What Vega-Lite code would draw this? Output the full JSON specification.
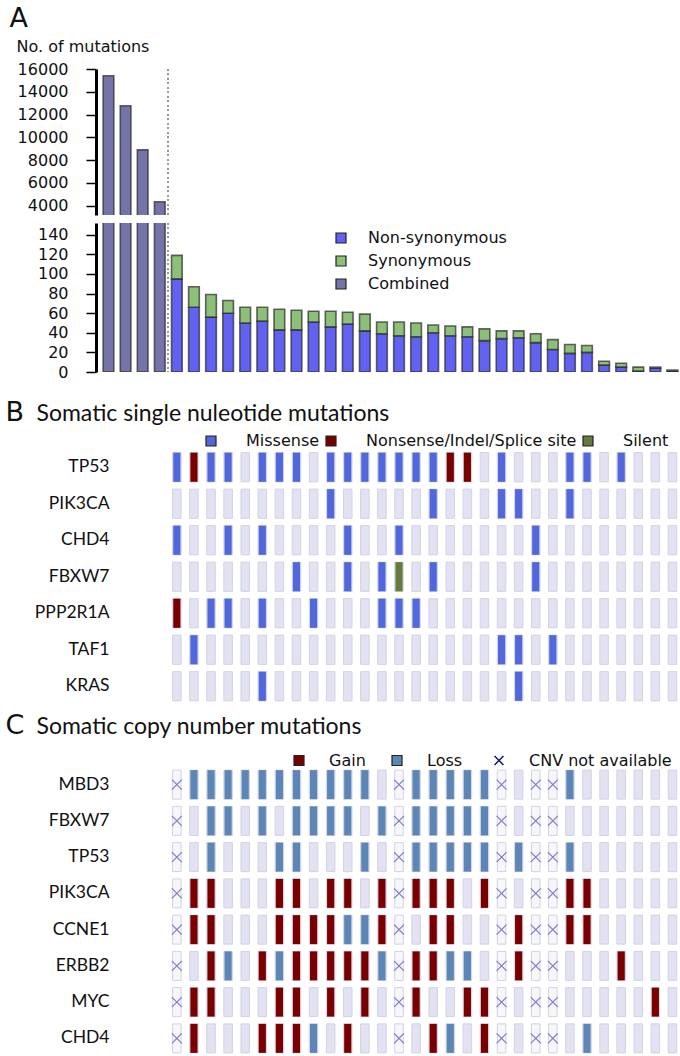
{
  "$schema": "https://vega.github.io/schema/vega-lite/v6.json",
  "padding": {"left": 5, "top": 4, "right": 0, "bottom": 0},
  "config": {
    "view": {"stroke": null},
    "font": "DejaVu Sans",
    "axis": {"grid": false},
    "legend": {"labelFont": "DejaVu Sans", "labelFontSize": 16, "labelColor": "#111", "labelLimit": 400}
  },
  "datasets": {
    "counts": [
      {"sample": 1, "type": "Combined", "count": 15410},
      {"sample": 2, "type": "Combined", "count": 12770},
      {"sample": 3, "type": "Combined", "count": 8900},
      {"sample": 4, "type": "Combined", "count": 4350},
      {"sample": 5, "type": "Non-synonymous", "count": 95}, {"sample": 5, "type": "Synonymous", "count": 24},
      {"sample": 6, "type": "Non-synonymous", "count": 66}, {"sample": 6, "type": "Synonymous", "count": 21},
      {"sample": 7, "type": "Non-synonymous", "count": 56}, {"sample": 7, "type": "Synonymous", "count": 23},
      {"sample": 8, "type": "Non-synonymous", "count": 60}, {"sample": 8, "type": "Synonymous", "count": 13},
      {"sample": 9, "type": "Non-synonymous", "count": 50}, {"sample": 9, "type": "Synonymous", "count": 16},
      {"sample": 10, "type": "Non-synonymous", "count": 52}, {"sample": 10, "type": "Synonymous", "count": 14},
      {"sample": 11, "type": "Non-synonymous", "count": 43}, {"sample": 11, "type": "Synonymous", "count": 21},
      {"sample": 12, "type": "Non-synonymous", "count": 43}, {"sample": 12, "type": "Synonymous", "count": 20},
      {"sample": 13, "type": "Non-synonymous", "count": 51}, {"sample": 13, "type": "Synonymous", "count": 11},
      {"sample": 14, "type": "Non-synonymous", "count": 46}, {"sample": 14, "type": "Synonymous", "count": 16},
      {"sample": 15, "type": "Non-synonymous", "count": 49}, {"sample": 15, "type": "Synonymous", "count": 12},
      {"sample": 16, "type": "Non-synonymous", "count": 42}, {"sample": 16, "type": "Synonymous", "count": 17},
      {"sample": 17, "type": "Non-synonymous", "count": 39}, {"sample": 17, "type": "Synonymous", "count": 12},
      {"sample": 18, "type": "Non-synonymous", "count": 37}, {"sample": 18, "type": "Synonymous", "count": 14},
      {"sample": 19, "type": "Non-synonymous", "count": 36}, {"sample": 19, "type": "Synonymous", "count": 14},
      {"sample": 20, "type": "Non-synonymous", "count": 40}, {"sample": 20, "type": "Synonymous", "count": 8},
      {"sample": 21, "type": "Non-synonymous", "count": 37}, {"sample": 21, "type": "Synonymous", "count": 10},
      {"sample": 22, "type": "Non-synonymous", "count": 36}, {"sample": 22, "type": "Synonymous", "count": 10},
      {"sample": 23, "type": "Non-synonymous", "count": 32}, {"sample": 23, "type": "Synonymous", "count": 12},
      {"sample": 24, "type": "Non-synonymous", "count": 34}, {"sample": 24, "type": "Synonymous", "count": 8},
      {"sample": 25, "type": "Non-synonymous", "count": 35}, {"sample": 25, "type": "Synonymous", "count": 7},
      {"sample": 26, "type": "Non-synonymous", "count": 30}, {"sample": 26, "type": "Synonymous", "count": 9},
      {"sample": 27, "type": "Non-synonymous", "count": 23}, {"sample": 27, "type": "Synonymous", "count": 10},
      {"sample": 28, "type": "Non-synonymous", "count": 19}, {"sample": 28, "type": "Synonymous", "count": 9},
      {"sample": 29, "type": "Non-synonymous", "count": 20}, {"sample": 29, "type": "Synonymous", "count": 7},
      {"sample": 30, "type": "Non-synonymous", "count": 7}, {"sample": 30, "type": "Synonymous", "count": 4},
      {"sample": 31, "type": "Non-synonymous", "count": 5}, {"sample": 31, "type": "Synonymous", "count": 4},
      {"sample": 32, "type": "Non-synonymous", "count": 1}, {"sample": 32, "type": "Synonymous", "count": 4},
      {"sample": 33, "type": "Non-synonymous", "count": 4}, {"sample": 33, "type": "Synonymous", "count": 1},
      {"sample": 34, "type": "Non-synonymous", "count": 1}, {"sample": 34, "type": "Synonymous", "count": 1}
    ],
    "snv": [
      {"gene":"TP53","sample":5,"type":"Missense"},{"gene":"TP53","sample":6,"type":"Nonsense/Indel/Splice site"},{"gene":"TP53","sample":7,"type":"Missense"},{"gene":"TP53","sample":8,"type":"Missense"},{"gene":"TP53","sample":9,"type":"none"},{"gene":"TP53","sample":10,"type":"Missense"},{"gene":"TP53","sample":11,"type":"Missense"},{"gene":"TP53","sample":12,"type":"Missense"},{"gene":"TP53","sample":13,"type":"none"},{"gene":"TP53","sample":14,"type":"Missense"},{"gene":"TP53","sample":15,"type":"Missense"},{"gene":"TP53","sample":16,"type":"Missense"},{"gene":"TP53","sample":17,"type":"Missense"},{"gene":"TP53","sample":18,"type":"Missense"},{"gene":"TP53","sample":19,"type":"Missense"},{"gene":"TP53","sample":20,"type":"Missense"},{"gene":"TP53","sample":21,"type":"Nonsense/Indel/Splice site"},{"gene":"TP53","sample":22,"type":"Nonsense/Indel/Splice site"},{"gene":"TP53","sample":23,"type":"none"},{"gene":"TP53","sample":24,"type":"Missense"},{"gene":"TP53","sample":25,"type":"none"},{"gene":"TP53","sample":26,"type":"none"},{"gene":"TP53","sample":27,"type":"none"},{"gene":"TP53","sample":28,"type":"Missense"},{"gene":"TP53","sample":29,"type":"Missense"},{"gene":"TP53","sample":30,"type":"none"},{"gene":"TP53","sample":31,"type":"Missense"},{"gene":"TP53","sample":32,"type":"none"},{"gene":"TP53","sample":33,"type":"none"},{"gene":"TP53","sample":34,"type":"none"},
      {"gene":"PIK3CA","sample":5,"type":"none"},{"gene":"PIK3CA","sample":6,"type":"none"},{"gene":"PIK3CA","sample":7,"type":"none"},{"gene":"PIK3CA","sample":8,"type":"none"},{"gene":"PIK3CA","sample":9,"type":"none"},{"gene":"PIK3CA","sample":10,"type":"none"},{"gene":"PIK3CA","sample":11,"type":"none"},{"gene":"PIK3CA","sample":12,"type":"none"},{"gene":"PIK3CA","sample":13,"type":"none"},{"gene":"PIK3CA","sample":14,"type":"Missense"},{"gene":"PIK3CA","sample":15,"type":"none"},{"gene":"PIK3CA","sample":16,"type":"none"},{"gene":"PIK3CA","sample":17,"type":"none"},{"gene":"PIK3CA","sample":18,"type":"none"},{"gene":"PIK3CA","sample":19,"type":"none"},{"gene":"PIK3CA","sample":20,"type":"Missense"},{"gene":"PIK3CA","sample":21,"type":"none"},{"gene":"PIK3CA","sample":22,"type":"none"},{"gene":"PIK3CA","sample":23,"type":"none"},{"gene":"PIK3CA","sample":24,"type":"Missense"},{"gene":"PIK3CA","sample":25,"type":"Missense"},{"gene":"PIK3CA","sample":26,"type":"none"},{"gene":"PIK3CA","sample":27,"type":"none"},{"gene":"PIK3CA","sample":28,"type":"Missense"},{"gene":"PIK3CA","sample":29,"type":"none"},{"gene":"PIK3CA","sample":30,"type":"none"},{"gene":"PIK3CA","sample":31,"type":"none"},{"gene":"PIK3CA","sample":32,"type":"none"},{"gene":"PIK3CA","sample":33,"type":"none"},{"gene":"PIK3CA","sample":34,"type":"none"},
      {"gene":"CHD4","sample":5,"type":"Missense"},{"gene":"CHD4","sample":6,"type":"none"},{"gene":"CHD4","sample":7,"type":"none"},{"gene":"CHD4","sample":8,"type":"Missense"},{"gene":"CHD4","sample":9,"type":"none"},{"gene":"CHD4","sample":10,"type":"Missense"},{"gene":"CHD4","sample":11,"type":"none"},{"gene":"CHD4","sample":12,"type":"none"},{"gene":"CHD4","sample":13,"type":"none"},{"gene":"CHD4","sample":14,"type":"none"},{"gene":"CHD4","sample":15,"type":"Missense"},{"gene":"CHD4","sample":16,"type":"none"},{"gene":"CHD4","sample":17,"type":"none"},{"gene":"CHD4","sample":18,"type":"Missense"},{"gene":"CHD4","sample":19,"type":"none"},{"gene":"CHD4","sample":20,"type":"none"},{"gene":"CHD4","sample":21,"type":"none"},{"gene":"CHD4","sample":22,"type":"none"},{"gene":"CHD4","sample":23,"type":"none"},{"gene":"CHD4","sample":24,"type":"none"},{"gene":"CHD4","sample":25,"type":"none"},{"gene":"CHD4","sample":26,"type":"Missense"},{"gene":"CHD4","sample":27,"type":"none"},{"gene":"CHD4","sample":28,"type":"none"},{"gene":"CHD4","sample":29,"type":"none"},{"gene":"CHD4","sample":30,"type":"none"},{"gene":"CHD4","sample":31,"type":"none"},{"gene":"CHD4","sample":32,"type":"none"},{"gene":"CHD4","sample":33,"type":"none"},{"gene":"CHD4","sample":34,"type":"none"},
      {"gene":"FBXW7","sample":5,"type":"none"},{"gene":"FBXW7","sample":6,"type":"none"},{"gene":"FBXW7","sample":7,"type":"none"},{"gene":"FBXW7","sample":8,"type":"none"},{"gene":"FBXW7","sample":9,"type":"none"},{"gene":"FBXW7","sample":10,"type":"none"},{"gene":"FBXW7","sample":11,"type":"none"},{"gene":"FBXW7","sample":12,"type":"Missense"},{"gene":"FBXW7","sample":13,"type":"none"},{"gene":"FBXW7","sample":14,"type":"none"},{"gene":"FBXW7","sample":15,"type":"Missense"},{"gene":"FBXW7","sample":16,"type":"none"},{"gene":"FBXW7","sample":17,"type":"Missense"},{"gene":"FBXW7","sample":18,"type":"Silent"},{"gene":"FBXW7","sample":19,"type":"none"},{"gene":"FBXW7","sample":20,"type":"Missense"},{"gene":"FBXW7","sample":21,"type":"none"},{"gene":"FBXW7","sample":22,"type":"none"},{"gene":"FBXW7","sample":23,"type":"none"},{"gene":"FBXW7","sample":24,"type":"none"},{"gene":"FBXW7","sample":25,"type":"none"},{"gene":"FBXW7","sample":26,"type":"Missense"},{"gene":"FBXW7","sample":27,"type":"none"},{"gene":"FBXW7","sample":28,"type":"none"},{"gene":"FBXW7","sample":29,"type":"none"},{"gene":"FBXW7","sample":30,"type":"none"},{"gene":"FBXW7","sample":31,"type":"none"},{"gene":"FBXW7","sample":32,"type":"none"},{"gene":"FBXW7","sample":33,"type":"none"},{"gene":"FBXW7","sample":34,"type":"none"},
      {"gene":"PPP2R1A","sample":5,"type":"Nonsense/Indel/Splice site"},{"gene":"PPP2R1A","sample":6,"type":"none"},{"gene":"PPP2R1A","sample":7,"type":"Missense"},{"gene":"PPP2R1A","sample":8,"type":"Missense"},{"gene":"PPP2R1A","sample":9,"type":"none"},{"gene":"PPP2R1A","sample":10,"type":"Missense"},{"gene":"PPP2R1A","sample":11,"type":"none"},{"gene":"PPP2R1A","sample":12,"type":"none"},{"gene":"PPP2R1A","sample":13,"type":"Missense"},{"gene":"PPP2R1A","sample":14,"type":"none"},{"gene":"PPP2R1A","sample":15,"type":"none"},{"gene":"PPP2R1A","sample":16,"type":"none"},{"gene":"PPP2R1A","sample":17,"type":"Missense"},{"gene":"PPP2R1A","sample":18,"type":"Missense"},{"gene":"PPP2R1A","sample":19,"type":"Missense"},{"gene":"PPP2R1A","sample":20,"type":"none"},{"gene":"PPP2R1A","sample":21,"type":"none"},{"gene":"PPP2R1A","sample":22,"type":"none"},{"gene":"PPP2R1A","sample":23,"type":"none"},{"gene":"PPP2R1A","sample":24,"type":"none"},{"gene":"PPP2R1A","sample":25,"type":"none"},{"gene":"PPP2R1A","sample":26,"type":"none"},{"gene":"PPP2R1A","sample":27,"type":"none"},{"gene":"PPP2R1A","sample":28,"type":"none"},{"gene":"PPP2R1A","sample":29,"type":"none"},{"gene":"PPP2R1A","sample":30,"type":"none"},{"gene":"PPP2R1A","sample":31,"type":"none"},{"gene":"PPP2R1A","sample":32,"type":"none"},{"gene":"PPP2R1A","sample":33,"type":"none"},{"gene":"PPP2R1A","sample":34,"type":"none"},
      {"gene":"TAF1","sample":5,"type":"none"},{"gene":"TAF1","sample":6,"type":"Missense"},{"gene":"TAF1","sample":7,"type":"none"},{"gene":"TAF1","sample":8,"type":"none"},{"gene":"TAF1","sample":9,"type":"none"},{"gene":"TAF1","sample":10,"type":"none"},{"gene":"TAF1","sample":11,"type":"none"},{"gene":"TAF1","sample":12,"type":"none"},{"gene":"TAF1","sample":13,"type":"none"},{"gene":"TAF1","sample":14,"type":"none"},{"gene":"TAF1","sample":15,"type":"none"},{"gene":"TAF1","sample":16,"type":"none"},{"gene":"TAF1","sample":17,"type":"none"},{"gene":"TAF1","sample":18,"type":"none"},{"gene":"TAF1","sample":19,"type":"none"},{"gene":"TAF1","sample":20,"type":"none"},{"gene":"TAF1","sample":21,"type":"none"},{"gene":"TAF1","sample":22,"type":"none"},{"gene":"TAF1","sample":23,"type":"none"},{"gene":"TAF1","sample":24,"type":"Missense"},{"gene":"TAF1","sample":25,"type":"Missense"},{"gene":"TAF1","sample":26,"type":"none"},{"gene":"TAF1","sample":27,"type":"Missense"},{"gene":"TAF1","sample":28,"type":"none"},{"gene":"TAF1","sample":29,"type":"none"},{"gene":"TAF1","sample":30,"type":"none"},{"gene":"TAF1","sample":31,"type":"none"},{"gene":"TAF1","sample":32,"type":"none"},{"gene":"TAF1","sample":33,"type":"none"},{"gene":"TAF1","sample":34,"type":"none"},
      {"gene":"KRAS","sample":5,"type":"none"},{"gene":"KRAS","sample":6,"type":"none"},{"gene":"KRAS","sample":7,"type":"none"},{"gene":"KRAS","sample":8,"type":"none"},{"gene":"KRAS","sample":9,"type":"none"},{"gene":"KRAS","sample":10,"type":"Missense"},{"gene":"KRAS","sample":11,"type":"none"},{"gene":"KRAS","sample":12,"type":"none"},{"gene":"KRAS","sample":13,"type":"none"},{"gene":"KRAS","sample":14,"type":"none"},{"gene":"KRAS","sample":15,"type":"none"},{"gene":"KRAS","sample":16,"type":"none"},{"gene":"KRAS","sample":17,"type":"none"},{"gene":"KRAS","sample":18,"type":"none"},{"gene":"KRAS","sample":19,"type":"none"},{"gene":"KRAS","sample":20,"type":"none"},{"gene":"KRAS","sample":21,"type":"none"},{"gene":"KRAS","sample":22,"type":"none"},{"gene":"KRAS","sample":23,"type":"none"},{"gene":"KRAS","sample":24,"type":"none"},{"gene":"KRAS","sample":25,"type":"Missense"},{"gene":"KRAS","sample":26,"type":"none"},{"gene":"KRAS","sample":27,"type":"none"},{"gene":"KRAS","sample":28,"type":"none"},{"gene":"KRAS","sample":29,"type":"none"},{"gene":"KRAS","sample":30,"type":"none"},{"gene":"KRAS","sample":31,"type":"none"},{"gene":"KRAS","sample":32,"type":"none"},{"gene":"KRAS","sample":33,"type":"none"},{"gene":"KRAS","sample":34,"type":"none"}
    ],
    "cnv": [
      {"gene":"MBD3","sample":5,"status":"CNV not available"},{"gene":"MBD3","sample":6,"status":"Loss"},{"gene":"MBD3","sample":7,"status":"Loss"},{"gene":"MBD3","sample":8,"status":"Loss"},{"gene":"MBD3","sample":9,"status":"Loss"},{"gene":"MBD3","sample":10,"status":"Loss"},{"gene":"MBD3","sample":11,"status":"Loss"},{"gene":"MBD3","sample":12,"status":"Loss"},{"gene":"MBD3","sample":13,"status":"Loss"},{"gene":"MBD3","sample":14,"status":"Loss"},{"gene":"MBD3","sample":15,"status":"Loss"},{"gene":"MBD3","sample":16,"status":"Loss"},{"gene":"MBD3","sample":17,"status":"none"},{"gene":"MBD3","sample":18,"status":"CNV not available"},{"gene":"MBD3","sample":19,"status":"Loss"},{"gene":"MBD3","sample":20,"status":"Loss"},{"gene":"MBD3","sample":21,"status":"Loss"},{"gene":"MBD3","sample":22,"status":"Loss"},{"gene":"MBD3","sample":23,"status":"Loss"},{"gene":"MBD3","sample":24,"status":"CNV not available"},{"gene":"MBD3","sample":25,"status":"none"},{"gene":"MBD3","sample":26,"status":"CNV not available"},{"gene":"MBD3","sample":27,"status":"CNV not available"},{"gene":"MBD3","sample":28,"status":"Loss"},{"gene":"MBD3","sample":29,"status":"none"},{"gene":"MBD3","sample":30,"status":"none"},{"gene":"MBD3","sample":31,"status":"none"},{"gene":"MBD3","sample":32,"status":"none"},{"gene":"MBD3","sample":33,"status":"none"},{"gene":"MBD3","sample":34,"status":"none"},
      {"gene":"FBXW7","sample":5,"status":"CNV not available"},{"gene":"FBXW7","sample":6,"status":"none"},{"gene":"FBXW7","sample":7,"status":"Loss"},{"gene":"FBXW7","sample":8,"status":"Loss"},{"gene":"FBXW7","sample":9,"status":"none"},{"gene":"FBXW7","sample":10,"status":"Loss"},{"gene":"FBXW7","sample":11,"status":"none"},{"gene":"FBXW7","sample":12,"status":"Loss"},{"gene":"FBXW7","sample":13,"status":"Loss"},{"gene":"FBXW7","sample":14,"status":"Loss"},{"gene":"FBXW7","sample":15,"status":"Loss"},{"gene":"FBXW7","sample":16,"status":"none"},{"gene":"FBXW7","sample":17,"status":"Loss"},{"gene":"FBXW7","sample":18,"status":"CNV not available"},{"gene":"FBXW7","sample":19,"status":"Loss"},{"gene":"FBXW7","sample":20,"status":"Loss"},{"gene":"FBXW7","sample":21,"status":"Loss"},{"gene":"FBXW7","sample":22,"status":"Loss"},{"gene":"FBXW7","sample":23,"status":"Loss"},{"gene":"FBXW7","sample":24,"status":"CNV not available"},{"gene":"FBXW7","sample":25,"status":"none"},{"gene":"FBXW7","sample":26,"status":"CNV not available"},{"gene":"FBXW7","sample":27,"status":"CNV not available"},{"gene":"FBXW7","sample":28,"status":"none"},{"gene":"FBXW7","sample":29,"status":"none"},{"gene":"FBXW7","sample":30,"status":"none"},{"gene":"FBXW7","sample":31,"status":"none"},{"gene":"FBXW7","sample":32,"status":"none"},{"gene":"FBXW7","sample":33,"status":"none"},{"gene":"FBXW7","sample":34,"status":"none"},
      {"gene":"TP53","sample":5,"status":"CNV not available"},{"gene":"TP53","sample":6,"status":"none"},{"gene":"TP53","sample":7,"status":"Loss"},{"gene":"TP53","sample":8,"status":"none"},{"gene":"TP53","sample":9,"status":"none"},{"gene":"TP53","sample":10,"status":"none"},{"gene":"TP53","sample":11,"status":"Loss"},{"gene":"TP53","sample":12,"status":"Loss"},{"gene":"TP53","sample":13,"status":"none"},{"gene":"TP53","sample":14,"status":"none"},{"gene":"TP53","sample":15,"status":"none"},{"gene":"TP53","sample":16,"status":"Loss"},{"gene":"TP53","sample":17,"status":"none"},{"gene":"TP53","sample":18,"status":"CNV not available"},{"gene":"TP53","sample":19,"status":"Loss"},{"gene":"TP53","sample":20,"status":"Loss"},{"gene":"TP53","sample":21,"status":"Loss"},{"gene":"TP53","sample":22,"status":"Loss"},{"gene":"TP53","sample":23,"status":"Loss"},{"gene":"TP53","sample":24,"status":"CNV not available"},{"gene":"TP53","sample":25,"status":"Loss"},{"gene":"TP53","sample":26,"status":"CNV not available"},{"gene":"TP53","sample":27,"status":"CNV not available"},{"gene":"TP53","sample":28,"status":"Loss"},{"gene":"TP53","sample":29,"status":"none"},{"gene":"TP53","sample":30,"status":"none"},{"gene":"TP53","sample":31,"status":"none"},{"gene":"TP53","sample":32,"status":"none"},{"gene":"TP53","sample":33,"status":"none"},{"gene":"TP53","sample":34,"status":"none"},
      {"gene":"PIK3CA","sample":5,"status":"CNV not available"},{"gene":"PIK3CA","sample":6,"status":"Gain"},{"gene":"PIK3CA","sample":7,"status":"Gain"},{"gene":"PIK3CA","sample":8,"status":"none"},{"gene":"PIK3CA","sample":9,"status":"none"},{"gene":"PIK3CA","sample":10,"status":"none"},{"gene":"PIK3CA","sample":11,"status":"Gain"},{"gene":"PIK3CA","sample":12,"status":"Gain"},{"gene":"PIK3CA","sample":13,"status":"none"},{"gene":"PIK3CA","sample":14,"status":"Gain"},{"gene":"PIK3CA","sample":15,"status":"Gain"},{"gene":"PIK3CA","sample":16,"status":"none"},{"gene":"PIK3CA","sample":17,"status":"Gain"},{"gene":"PIK3CA","sample":18,"status":"CNV not available"},{"gene":"PIK3CA","sample":19,"status":"Gain"},{"gene":"PIK3CA","sample":20,"status":"Gain"},{"gene":"PIK3CA","sample":21,"status":"Gain"},{"gene":"PIK3CA","sample":22,"status":"none"},{"gene":"PIK3CA","sample":23,"status":"Gain"},{"gene":"PIK3CA","sample":24,"status":"CNV not available"},{"gene":"PIK3CA","sample":25,"status":"none"},{"gene":"PIK3CA","sample":26,"status":"CNV not available"},{"gene":"PIK3CA","sample":27,"status":"CNV not available"},{"gene":"PIK3CA","sample":28,"status":"Gain"},{"gene":"PIK3CA","sample":29,"status":"Gain"},{"gene":"PIK3CA","sample":30,"status":"none"},{"gene":"PIK3CA","sample":31,"status":"none"},{"gene":"PIK3CA","sample":32,"status":"none"},{"gene":"PIK3CA","sample":33,"status":"none"},{"gene":"PIK3CA","sample":34,"status":"none"},
      {"gene":"CCNE1","sample":5,"status":"CNV not available"},{"gene":"CCNE1","sample":6,"status":"Gain"},{"gene":"CCNE1","sample":7,"status":"Gain"},{"gene":"CCNE1","sample":8,"status":"none"},{"gene":"CCNE1","sample":9,"status":"none"},{"gene":"CCNE1","sample":10,"status":"none"},{"gene":"CCNE1","sample":11,"status":"Gain"},{"gene":"CCNE1","sample":12,"status":"Gain"},{"gene":"CCNE1","sample":13,"status":"Gain"},{"gene":"CCNE1","sample":14,"status":"Gain"},{"gene":"CCNE1","sample":15,"status":"Loss"},{"gene":"CCNE1","sample":16,"status":"Loss"},{"gene":"CCNE1","sample":17,"status":"Gain"},{"gene":"CCNE1","sample":18,"status":"CNV not available"},{"gene":"CCNE1","sample":19,"status":"none"},{"gene":"CCNE1","sample":20,"status":"Gain"},{"gene":"CCNE1","sample":21,"status":"Gain"},{"gene":"CCNE1","sample":22,"status":"none"},{"gene":"CCNE1","sample":23,"status":"none"},{"gene":"CCNE1","sample":24,"status":"CNV not available"},{"gene":"CCNE1","sample":25,"status":"Gain"},{"gene":"CCNE1","sample":26,"status":"CNV not available"},{"gene":"CCNE1","sample":27,"status":"CNV not available"},{"gene":"CCNE1","sample":28,"status":"Gain"},{"gene":"CCNE1","sample":29,"status":"Gain"},{"gene":"CCNE1","sample":30,"status":"none"},{"gene":"CCNE1","sample":31,"status":"none"},{"gene":"CCNE1","sample":32,"status":"none"},{"gene":"CCNE1","sample":33,"status":"none"},{"gene":"CCNE1","sample":34,"status":"none"},
      {"gene":"ERBB2","sample":5,"status":"CNV not available"},{"gene":"ERBB2","sample":6,"status":"none"},{"gene":"ERBB2","sample":7,"status":"Gain"},{"gene":"ERBB2","sample":8,"status":"Loss"},{"gene":"ERBB2","sample":9,"status":"none"},{"gene":"ERBB2","sample":10,"status":"Gain"},{"gene":"ERBB2","sample":11,"status":"Loss"},{"gene":"ERBB2","sample":12,"status":"Gain"},{"gene":"ERBB2","sample":13,"status":"Gain"},{"gene":"ERBB2","sample":14,"status":"Gain"},{"gene":"ERBB2","sample":15,"status":"Gain"},{"gene":"ERBB2","sample":16,"status":"Gain"},{"gene":"ERBB2","sample":17,"status":"Loss"},{"gene":"ERBB2","sample":18,"status":"CNV not available"},{"gene":"ERBB2","sample":19,"status":"Gain"},{"gene":"ERBB2","sample":20,"status":"Gain"},{"gene":"ERBB2","sample":21,"status":"Loss"},{"gene":"ERBB2","sample":22,"status":"Loss"},{"gene":"ERBB2","sample":23,"status":"none"},{"gene":"ERBB2","sample":24,"status":"CNV not available"},{"gene":"ERBB2","sample":25,"status":"Gain"},{"gene":"ERBB2","sample":26,"status":"CNV not available"},{"gene":"ERBB2","sample":27,"status":"CNV not available"},{"gene":"ERBB2","sample":28,"status":"none"},{"gene":"ERBB2","sample":29,"status":"none"},{"gene":"ERBB2","sample":30,"status":"none"},{"gene":"ERBB2","sample":31,"status":"Gain"},{"gene":"ERBB2","sample":32,"status":"none"},{"gene":"ERBB2","sample":33,"status":"none"},{"gene":"ERBB2","sample":34,"status":"none"},
      {"gene":"MYC","sample":5,"status":"CNV not available"},{"gene":"MYC","sample":6,"status":"Gain"},{"gene":"MYC","sample":7,"status":"Gain"},{"gene":"MYC","sample":8,"status":"none"},{"gene":"MYC","sample":9,"status":"none"},{"gene":"MYC","sample":10,"status":"none"},{"gene":"MYC","sample":11,"status":"Gain"},{"gene":"MYC","sample":12,"status":"Gain"},{"gene":"MYC","sample":13,"status":"none"},{"gene":"MYC","sample":14,"status":"Gain"},{"gene":"MYC","sample":15,"status":"none"},{"gene":"MYC","sample":16,"status":"Gain"},{"gene":"MYC","sample":17,"status":"none"},{"gene":"MYC","sample":18,"status":"CNV not available"},{"gene":"MYC","sample":19,"status":"Gain"},{"gene":"MYC","sample":20,"status":"none"},{"gene":"MYC","sample":21,"status":"none"},{"gene":"MYC","sample":22,"status":"Gain"},{"gene":"MYC","sample":23,"status":"Gain"},{"gene":"MYC","sample":24,"status":"CNV not available"},{"gene":"MYC","sample":25,"status":"none"},{"gene":"MYC","sample":26,"status":"CNV not available"},{"gene":"MYC","sample":27,"status":"CNV not available"},{"gene":"MYC","sample":28,"status":"none"},{"gene":"MYC","sample":29,"status":"none"},{"gene":"MYC","sample":30,"status":"none"},{"gene":"MYC","sample":31,"status":"none"},{"gene":"MYC","sample":32,"status":"none"},{"gene":"MYC","sample":33,"status":"Gain"},{"gene":"MYC","sample":34,"status":"none"},
      {"gene":"CHD4","sample":5,"status":"CNV not available"},{"gene":"CHD4","sample":6,"status":"Gain"},{"gene":"CHD4","sample":7,"status":"none"},{"gene":"CHD4","sample":8,"status":"none"},{"gene":"CHD4","sample":9,"status":"none"},{"gene":"CHD4","sample":10,"status":"Gain"},{"gene":"CHD4","sample":11,"status":"Gain"},{"gene":"CHD4","sample":12,"status":"Gain"},{"gene":"CHD4","sample":13,"status":"Loss"},{"gene":"CHD4","sample":14,"status":"none"},{"gene":"CHD4","sample":15,"status":"Gain"},{"gene":"CHD4","sample":16,"status":"none"},{"gene":"CHD4","sample":17,"status":"none"},{"gene":"CHD4","sample":18,"status":"CNV not available"},{"gene":"CHD4","sample":19,"status":"none"},{"gene":"CHD4","sample":20,"status":"Gain"},{"gene":"CHD4","sample":21,"status":"Loss"},{"gene":"CHD4","sample":22,"status":"none"},{"gene":"CHD4","sample":23,"status":"Gain"},{"gene":"CHD4","sample":24,"status":"CNV not available"},{"gene":"CHD4","sample":25,"status":"none"},{"gene":"CHD4","sample":26,"status":"CNV not available"},{"gene":"CHD4","sample":27,"status":"CNV not available"},{"gene":"CHD4","sample":28,"status":"none"},{"gene":"CHD4","sample":29,"status":"Loss"},{"gene":"CHD4","sample":30,"status":"none"},{"gene":"CHD4","sample":31,"status":"none"},{"gene":"CHD4","sample":32,"status":"none"},{"gene":"CHD4","sample":33,"status":"none"},{"gene":"CHD4","sample":34,"status":"none"}
    ]
  },
  "vconcat": [
    {
      "width": 585,
      "height": 146,
      "data": {"name": "counts"},
      "layer": [
        {
          "mark": {"type": "bar", "clip": true, "width": {"band": 0.625}, "stroke": "#2a2a2a", "strokeWidth": 1.6, "strokeOpacity": 0.7},
          "encoding": {
            "x": {"field": "sample", "type": "ordinal",
              "scale": {"domain": [1,2,3,4,5,6,7,8,9,10,11,12,13,14,15,16,17,18,19,20,21,22,23,24,25,26,27,28,29,30,31,32,33,34], "paddingInner": 0, "paddingOuter": 0.1155, "align": 1},
              "axis": {"orient": "top", "labels": false, "ticks": false, "domain": false, "title": "A", "titleX": -87, "titleY": -43, "titleAlign": "left", "titleBaseline": "alphabetic", "titleFontSize": 27, "titleFontWeight": "normal", "titleColor": "#111", "titleFont": "DejaVu Sans"}},
            "y": {"field": "count", "type": "quantitative", "stack": "zero",
              "scale": {"domain": [3180, 16000], "zero": false, "nice": false},
              "axis": {"values": [4000, 6000, 8000, 10000, 12000, 14000, 16000], "format": "d", "title": "No. of mutations", "titleAngle": 0, "titleAlign": "left", "titleBaseline": "alphabetic", "titleX": -80, "titleY": -18, "titleFontSize": 16, "titleFontWeight": "normal", "titleColor": "#111", "labelFontSize": 16, "labelColor": "#111", "labelPadding": 18, "tickSize": 10, "tickWidth": 1.5, "tickColor": "#000", "domainWidth": 3, "domainColor": "#000"}},
            "color": {"field": "type", "type": "nominal", "scale": {"domain": ["Non-synonymous", "Synonymous", "Combined"], "range": ["#6262f2", "#8cbf78", "#7474aa"]}, "legend": null},
            "order": {"field": "type", "sort": "ascending"}
          }
        },
        {
          "mark": {"type": "rule", "strokeDash": [1.5, 3], "color": "#999", "strokeWidth": 1},
          "encoding": {"x": {"datum": 5, "type": "ordinal", "bandPosition": 0}}
        }
      ]
    },
    {
      "width": 585,
      "height": 149,
      "data": {"name": "counts"},
      "layer": [
        {
          "mark": {"type": "bar", "clip": true, "width": {"band": 0.625}, "stroke": "#2a2a2a", "strokeWidth": 1.6, "strokeOpacity": 0.7},
          "encoding": {
            "x": {"field": "sample", "type": "ordinal",
              "scale": {"domain": [1,2,3,4,5,6,7,8,9,10,11,12,13,14,15,16,17,18,19,20,21,22,23,24,25,26,27,28,29,30,31,32,33,34], "paddingInner": 0, "paddingOuter": 0.1155, "align": 1},
              "axis": null},
            "y": {"field": "count", "type": "quantitative", "stack": "zero",
              "scale": {"domain": [0, 152], "nice": false},
              "axis": {"values": [0, 20, 40, 60, 80, 100, 120, 140], "title": null, "labelFontSize": 16, "labelColor": "#111", "labelPadding": 18, "tickSize": 10, "tickWidth": 1.5, "tickColor": "#000", "domainWidth": 3, "domainColor": "#000"}},
            "color": {"field": "type", "type": "nominal", "scale": {"domain": ["Non-synonymous", "Synonymous", "Combined"], "range": ["#6262f2", "#8cbf78", "#7474aa"]},
              "legend": {"orient": "none", "legendX": 237, "legendY": 7, "title": null, "symbolType": "square", "symbolSize": 100, "symbolStrokeColor": "#222", "symbolStrokeWidth": 1.2, "labelOffset": 19, "rowPadding": 7}},
            "order": {"field": "type", "sort": "ascending"}
          }
        },
        {
          "mark": {"type": "rule", "strokeDash": [1.5, 3], "color": "#999", "strokeWidth": 1},
          "encoding": {"x": {"datum": 5, "type": "ordinal", "bandPosition": 0}}
        }
      ]
    },
    {
      "width": 585,
      "height": 324.5,
      "data": {"name": "snv"},
      "encoding": {
        "x": {"field": "sample", "type": "ordinal",
          "scale": {"domain": [1,2,3,4,5,6,7,8,9,10,11,12,13,14,15,16,17,18,19,20,21,22,23,24,25,26,27,28,29,30,31,32,33,34], "paddingInner": 0, "paddingOuter": 0.1155, "align": 1},
          "axis": {"orient": "top", "labels": false, "ticks": false, "domain": false, "title": "B", "titleX": -91, "titleY": 40, "titleAlign": "left", "titleBaseline": "alphabetic", "titleFontSize": 27, "titleFontWeight": "normal", "titleColor": "#111", "titleFont": "DejaVu Sans"}},
        "y": {"field": "gene", "type": "nominal",
          "scale": {"domain": ["TP53", "PIK3CA", "CHD4", "FBXW7", "PPP2R1A", "TAF1", "KRAS"], "paddingInner": 0, "paddingOuter": 0.945, "align": 1},
          "axis": {"title": "Somatic single nuleotide mutations", "titleAngle": 0, "titleAlign": "left", "titleBaseline": "alphabetic", "titleX": -75, "titleY": 40, "titleFont": "Lato", "titleFontSize": 23, "titleFontWeight": "normal", "titleColor": "#111", "labelFont": "Lato", "labelFontSize": 17.5, "labelColor": "#111", "ticks": false, "domain": false, "offset": -15, "labelPadding": 2}}
      },
      "layer": [
        {"mark": {"type": "rect", "width": {"band": 0.5}, "height": {"band": 0.8}, "fill": "#e2e2f2", "stroke": "#d2d2e6", "strokeWidth": 1}},
        {
          "transform": [{"filter": "datum.type !== 'none'"}],
          "mark": {"type": "rect", "width": {"band": 0.42}, "height": {"band": 0.8}},
          "encoding": {
            "color": {"field": "type", "type": "nominal",
              "scale": {"domain": ["Missense", "Nonsense/Indel/Splice site", "Silent"], "range": ["#5068dc", "#7a0000", "#667a3e"]},
              "legend": {"orient": "none", "direction": "horizontal", "legendX": 107, "legendY": 53, "title": null, "symbolType": "square", "symbolSize": 100, "symbolStrokeColor": "#222", "symbolStrokeWidth": 1.2, "labelOffset": 27, "columnPadding": 3}}
          }
        }
      ]
    },
    {
      "width": 585,
      "height": 343.5,
      "data": {"name": "cnv"},
      "encoding": {
        "x": {"field": "sample", "type": "ordinal",
          "scale": {"domain": [1,2,3,4,5,6,7,8,9,10,11,12,13,14,15,16,17,18,19,20,21,22,23,24,25,26,27,28,29,30,31,32,33,34], "paddingInner": 0, "paddingOuter": 0.1155, "align": 1},
          "axis": {"orient": "top", "labels": false, "ticks": false, "domain": false, "title": "C", "titleX": -91, "titleY": 20.5, "titleAlign": "left", "titleBaseline": "alphabetic", "titleFontSize": 27, "titleFontWeight": "normal", "titleColor": "#111", "titleFont": "DejaVu Sans"}},
        "y": {"field": "gene", "type": "nominal",
          "scale": {"domain": ["MBD3", "FBXW7", "TP53", "PIK3CA", "CCNE1", "ERBB2", "MYC", "CHD4"], "paddingInner": 0, "paddingOuter": 0.738, "align": 1},
          "axis": {"title": "Somatic copy number mutations", "titleAngle": 0, "titleAlign": "left", "titleBaseline": "alphabetic", "titleX": -75, "titleY": 20.5, "titleFont": "Lato", "titleFontSize": 23, "titleFontWeight": "normal", "titleColor": "#111", "labelFont": "Lato", "labelFontSize": 17.5, "labelColor": "#111", "ticks": false, "domain": false, "offset": -15, "labelPadding": 2}}
      },
      "layer": [
        {
          "mark": {"type": "rect", "width": {"band": 0.5}, "height": {"band": 0.8}, "stroke": "#d2d2e6", "strokeWidth": 1},
          "encoding": {"fill": {"condition": {"test": "datum.status === 'CNV not available'", "value": "#f6f6fb"}, "value": "#e2e2f2"}}
        },
        {
          "transform": [{"filter": "datum.status === 'Gain' || datum.status === 'Loss'"}],
          "mark": {"type": "rect", "width": {"band": 0.42}, "height": {"band": 0.8}},
          "encoding": {
            "color": {"field": "status", "type": "nominal",
              "scale": {"domain": ["Gain", "Loss"], "range": ["#7a0000", "#5b86b6"]},
              "legend": {"orient": "none", "direction": "horizontal", "legendX": 195, "legendY": 39.5, "title": null, "symbolType": "square", "symbolSize": 100, "symbolStrokeColor": "#222", "symbolStrokeWidth": 1.2, "labelOffset": 22, "columnPadding": 23}}
          }
        },
        {
          "transform": [{"filter": "datum.status === 'CNV not available'"}],
          "mark": {"type": "point", "filled": false, "size": 100, "stroke": "#8080c8", "strokeWidth": 1.3, "opacity": 1},
          "encoding": {
            "shape": {"field": "status", "type": "nominal",
              "scale": {"domain": ["CNV not available"], "range": ["M-1,-1L1,1M-1,1L1,-1"]},
              "legend": {"orient": "none", "direction": "horizontal", "legendX": 395, "legendY": 39.5, "title": null, "symbolSize": 80, "symbolStrokeColor": "#1a1a70", "symbolStrokeWidth": 1.5, "labelOffset": 22}}
          }
        }
      ]
    }
  ],
  "spacing": 8,
  "bounds": "flush",
  "resolve": {"scale": {"color": "independent", "shape": "independent"}}
}
